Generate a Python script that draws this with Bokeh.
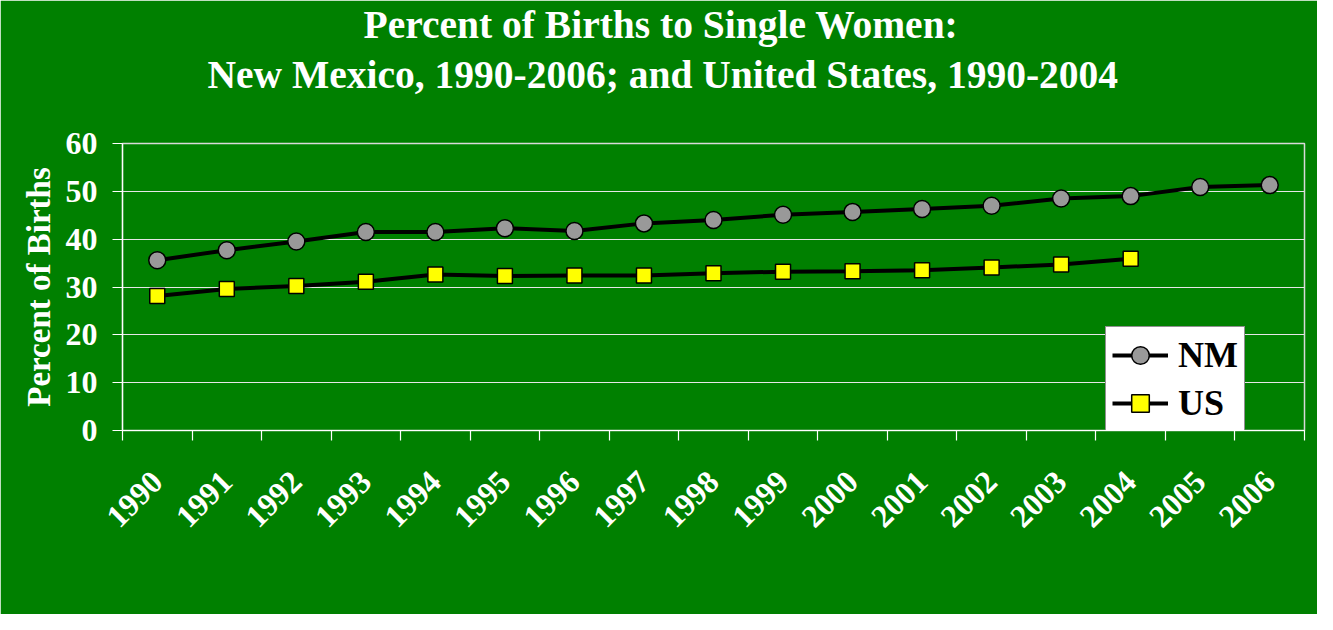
import math
from bokeh.plotting import figure
from bokeh.models import Range1d, FixedTicker, Title, Legend, LegendItem
from bokeh.embed import file_html
from bokeh.resources import INLINE

# ---- data ----
years = [str(y) for y in range(1990, 2007)]
nm_years = years
nm_values = [35.6, 37.7, 39.5, 41.5, 41.5, 42.3, 41.7, 43.3, 44.0, 45.1,
             45.7, 46.3, 47.0, 48.5, 49.0, 50.9, 51.3]
us_years = years[:15]
us_values = [28.1, 29.6, 30.2, 31.1, 32.6, 32.3, 32.4, 32.4, 32.9, 33.2,
             33.3, 33.5, 34.1, 34.7, 35.9]
y_ticks = [0, 10, 20, 30, 40, 50, 60]
title_lines = ["Percent of Births to Single Women:",
               "New Mexico, 1990-2006; and United States, 1990-2004"]
y_label = "Percent of Births"
series_names = ["NM", "US"]

GREEN = "#008000"
FONT = "Liberation Serif"

nm_x = [years.index(y) for y in nm_years]
us_x = [years.index(y) for y in us_years]

p = figure(width=1317, height=614, output_backend="svg", toolbar_location=None,
           title=None,
           x_range=Range1d(-0.5, len(years) - 0.5), y_range=Range1d(0, 60),
           min_border_left=122, min_border_right=13, min_border_top=143,
           min_border_bottom=184,
           background_fill_color=GREEN, border_fill_color=GREEN,
           outline_line_color="#d9d9d9", outline_line_width=1.5)

# grid
p.xgrid.visible = False
p.ygrid.grid_line_color = "#e6e6e6"
p.ygrid.grid_line_width = 1.2

# y axis
p.yaxis.ticker = FixedTicker(ticks=y_ticks)
p.yaxis.axis_line_color = "white"
p.yaxis.axis_line_width = 1.2
p.yaxis.major_tick_line_color = "white"
p.yaxis.major_tick_out = 10
p.yaxis.major_tick_in = 0
p.yaxis.minor_tick_line_color = None
p.yaxis.major_label_standoff = 15
p.yaxis.major_label_text_font = FONT
p.yaxis.major_label_text_font_style = "bold"
p.yaxis.major_label_text_font_size = "32px"
p.yaxis.major_label_text_color = "white"
p.yaxis.axis_label = y_label
p.yaxis.axis_label_text_font = FONT
p.yaxis.axis_label_text_font_style = "bold"
p.yaxis.axis_label_text_font_size = "33px"
p.yaxis.axis_label_text_color = "white"
p.yaxis.axis_label_standoff = 6

# x axis: labels at category centres, ticks at boundaries
p.xaxis.ticker = FixedTicker(ticks=list(range(len(years))),
                             minor_ticks=[i - 0.5 for i in range(len(years) + 1)])
p.xaxis.major_label_overrides = {i: y for i, y in enumerate(years)}
p.xaxis.axis_line_color = "white"
p.xaxis.axis_line_width = 1.2
p.xaxis.major_tick_out = 0
p.xaxis.major_tick_in = 0
p.xaxis.minor_tick_out = 10
p.xaxis.minor_tick_in = 0
p.xaxis.minor_tick_line_color = "white"
p.xaxis.minor_tick_line_width = 1.2
p.xaxis.major_label_orientation = math.pi / 4
p.xaxis.major_label_standoff = 36
p.xaxis.major_label_text_font = FONT
p.xaxis.major_label_text_font_style = "bold"
p.xaxis.major_label_text_font_size = "32px"
p.xaxis.major_label_text_color = "white"

# series
nm_line = p.line(nm_x, nm_values, line_color="black", line_width=4)
nm_pts = p.scatter(nm_x, nm_values, marker="circle", size=17,
                   fill_color="#999999", line_color="black", line_width=1.5)
us_line = p.line(us_x, us_values, line_color="black", line_width=4)
us_pts = p.scatter(us_x, us_values, marker="square", size=15,
                   fill_color="#FFFF00", line_color="black", line_width=1.5)

legend = Legend(items=[LegendItem(label=series_names[0], renderers=[nm_line, nm_pts]),
                       LegendItem(label=series_names[1], renderers=[us_line, us_pts])],
                location=(983, -2), orientation="vertical",
                background_fill_color="white", background_fill_alpha=1.0,
                border_line_color="#222222", border_line_width=1.5,
                padding=6, spacing=4, margin=0,
                glyph_width=56, glyph_height=44, label_height=44,
                label_standoff=10,
                label_text_font=FONT, label_text_font_style="bold",
                label_text_font_size="36px", label_text_color="black")
p.add_layout(legend)

# spacer between title block and plot area, then the two title lines
p.add_layout(Title(text=" ", standoff=30, text_font=FONT, text_font_size="10px",
                   text_color=GREEN), "above")
p.add_layout(Title(text=title_lines[1], align="left", offset=85, standoff=8,
                   text_font=FONT, text_font_style="bold",
                   text_font_size="39.5px", text_color="white"), "above")
p.add_layout(Title(text=title_lines[0], align="left", offset=241, standoff=0,
                   text_font=FONT, text_font_style="bold",
                   text_font_size="39.5px", text_color="white"), "above")

open("out.html", "w").write(file_html(p, INLINE))
